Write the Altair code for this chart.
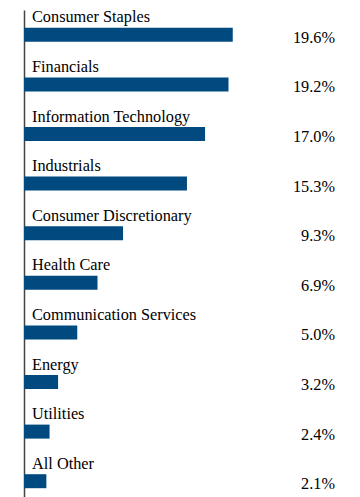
import altair as alt
import pandas as pd

categories = ["Consumer Staples", "Financials", "Information Technology", "Industrials",
              "Consumer Discretionary", "Health Care", "Communication Services",
              "Energy", "Utilities", "All Other"]
values = [19.6, 19.2, 17.0, 15.3, 9.3, 6.9, 5.0, 3.2, 2.4, 2.1]
labels = ["19.6%", "19.2%", "17.0%", "15.3%", "9.3%", "6.9%", "5.0%", "3.2%", "2.4%", "2.1%"]

df = pd.DataFrame({"cat": categories, "value": values, "label": labels})

W = 311
H = 496
FONT = "Liberation Serif"

y = alt.Y("cat:N", sort=categories,
          scale=alt.Scale(paddingInner=0, paddingOuter=0),
          axis=alt.Axis(labels=False, ticks=False, title=None, grid=False,
                        domainColor="#444444", domainWidth=1.5))

base = alt.Chart(df)

bars = base.mark_bar(size=14, color="#004a80").encode(
    y=y,
    x=alt.X("value:Q", scale=alt.Scale(domain=[0, 29.2]), axis=None),
)

cat_text = base.mark_text(align="left", baseline="alphabetic", dx=8, dy=-12.5,
                          font=FONT, fontSize=16.3, color="#000000").encode(
    y=y, x=alt.value(0), text="cat:N")

val_text = base.mark_text(align="right", baseline="alphabetic", dy=8,
                          font=FONT, fontSize=16.3, color="#000000").encode(
    y=y, x=alt.value(W), text="label:N")

chart = alt.layer(bars, cat_text, val_text).properties(
    width=W, height=H,
    padding={"left": 16, "top": 2, "right": 0, "bottom": 0},
    autosize="none",
).configure_view(stroke=None)

chart.save("out.html", embed_options={"renderer": "svg", "actions": False})
